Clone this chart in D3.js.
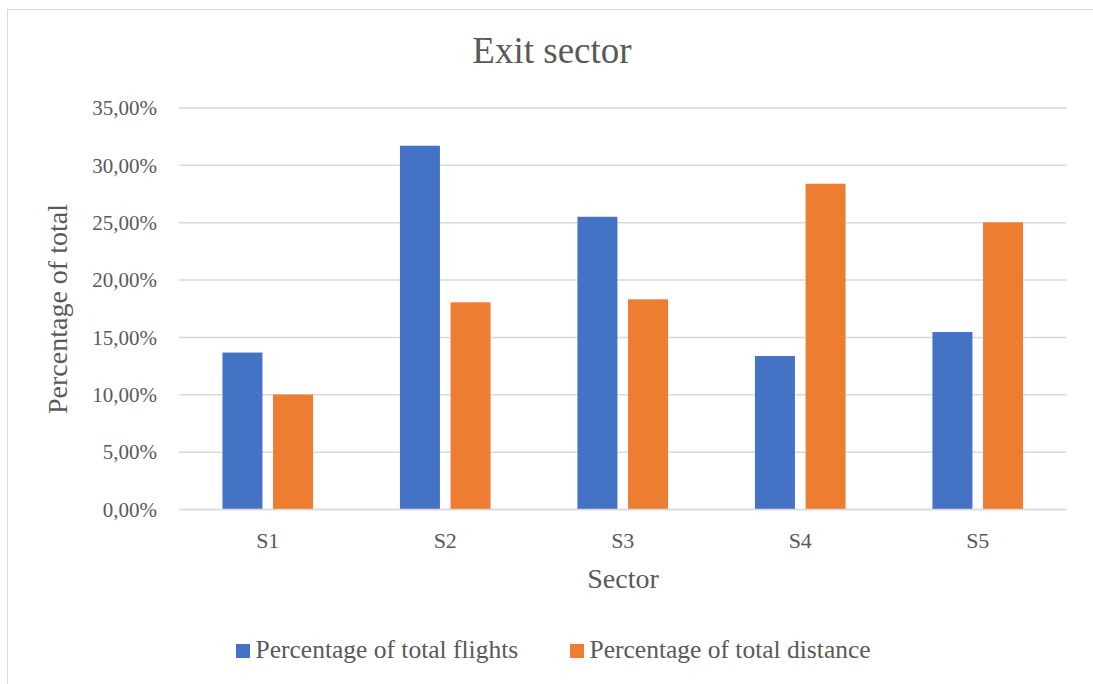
<!DOCTYPE html>
<html>
<head>
<meta charset="utf-8">
<script src="https://cdn.jsdelivr.net/npm/d3@7"></script>
<style>
  html, body { margin: 0; padding: 0; background: #ffffff; }
  svg { display: block; }
  text { font-family: "Liberation Serif", "Times New Roman", serif; fill: #595959; }
</style>
</head>
<body>
<svg id="chart" width="1093" height="684"></svg>
<script>
const categories = ["S1", "S2", "S3", "S4", "S5"];
const seriesNames = ["Percentage of total flights", "Percentage of total distance"];
const flights = [0.1368, 0.3171, 0.2552, 0.1338, 0.1547];
const distance = [0.1002, 0.1806, 0.1832, 0.2840, 0.2503];
const yTicks = [0, 0.05, 0.10, 0.15, 0.20, 0.25, 0.30, 0.35];
const colors = ["#4472C4", "#ED7D31"];
const chartTitle = "Exit sector";
const xTitle = "Sector";
const yTitle = "Percentage of total";

const svg = d3.select("#chart");
const W = 1093, H = 684;

// chart area border (top and left visible)
svg.append("rect").attr("x", 7.5).attr("y", 9.5).attr("width", W + 20).attr("height", H + 20)
  .attr("fill", "#fff").attr("stroke", "#d9d9d9").attr("stroke-width", 1);

const plot = { left: 179, right: 1066.5, top: 108, bottom: 509.5 };

const x0 = d3.scaleBand().domain(categories).range([plot.left, plot.right]).paddingInner(0).paddingOuter(0);
const groupW = 90.6;
const x1 = d3.scaleBand().domain(seriesNames).range([0, groupW]).paddingInner(0.21).paddingOuter(0);
const y = d3.scaleLinear().domain([0, 0.35]).range([plot.bottom, plot.top]);

const locale = d3.formatLocale({ decimal: ",", thousands: ".", grouping: [3], currency: ["", "\u20ac"] });
const fmt = locale.format(".2%");

// gridlines
svg.append("g").selectAll("line").data(yTicks).join("line")
  .attr("x1", plot.left).attr("x2", plot.right)
  .attr("y1", d => y(d)).attr("y2", d => y(d))
  .attr("stroke", "#d9d9d9").attr("stroke-width", 1.5);

// y tick labels
svg.append("g").selectAll("text").data(yTicks).join("text")
  .attr("x", 157).attr("y", d => y(d)).attr("dy", "0.35em")
  .attr("text-anchor", "end").attr("font-size", 21)
  .text(d => fmt(d));

// bars
const data = categories.map((c, i) => ({ cat: c, values: [flights[i], distance[i]] }));
const groups = svg.append("g").selectAll("g").data(data).join("g")
  .attr("transform", d => `translate(${x0(d.cat) + x0.bandwidth() / 2 - groupW / 2},0)`);
groups.selectAll("rect").data(d => d.values.map((v, j) => ({ s: seriesNames[j], v, j })))
  .join("rect")
  .attr("x", d => x1(d.s)).attr("width", x1.bandwidth())
  .attr("y", d => y(d.v)).attr("height", d => y(0) - y(d.v))
  .attr("fill", d => colors[d.j]);

// redraw baseline over bars
svg.append("line").attr("x1", plot.left).attr("x2", plot.right)
  .attr("y1", y(0)).attr("y2", y(0)).attr("stroke", "#d9d9d9").attr("stroke-width", 1.5);

// category labels
svg.append("g").selectAll("text").data(categories).join("text")
  .attr("x", d => x0(d) + x0.bandwidth() / 2).attr("y", 547.5)
  .attr("text-anchor", "middle").attr("font-size", 22)
  .text(d => d);

// titles
svg.append("text").attr("x", 552).attr("y", 63).attr("text-anchor", "middle")
  .attr("font-size", 37).text(chartTitle);
svg.append("text").attr("x", 623).attr("y", 588).attr("text-anchor", "middle")
  .attr("font-size", 28).text(xTitle);
svg.append("text").attr("transform", "translate(66.5,309) rotate(-90)").attr("text-anchor", "middle")
  .attr("font-size", 28).text(yTitle);

// legend
const legendX = [236, 570];
const leg = svg.append("g").selectAll("g").data(seriesNames).join("g")
  .attr("transform", (d, i) => `translate(${legendX[i]},644)`);
leg.append("rect").attr("width", 14).attr("height", 14).attr("fill", (d, i) => colors[i]);
leg.append("text").attr("x", 19.5).attr("y", 14).attr("font-size", 25.5).text(d => d);
</script>
</body>
</html>
